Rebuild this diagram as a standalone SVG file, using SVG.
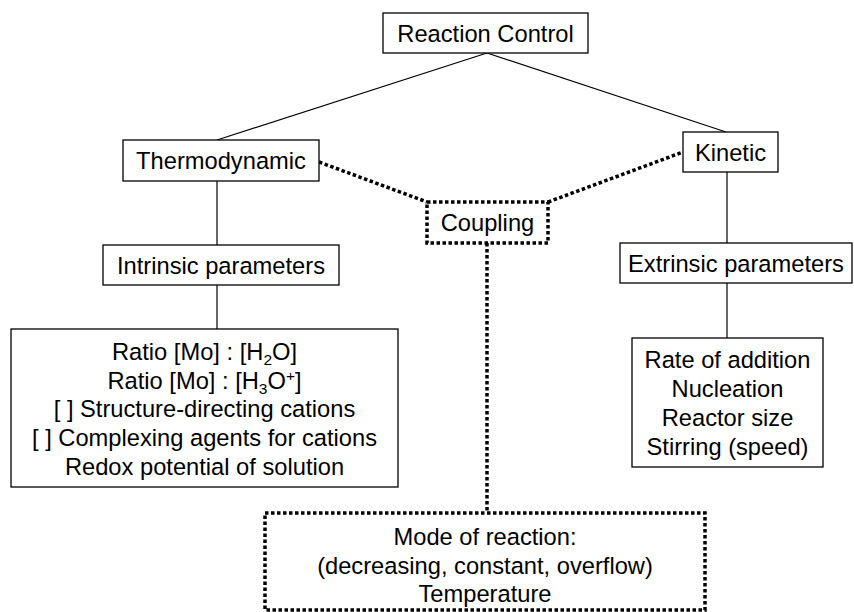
<svg xmlns="http://www.w3.org/2000/svg" width="854" height="612" viewBox="0 0 854 612">
<style>
  .box { fill: #ffffff; stroke: #000000; stroke-width: 1.3; }
  .dbox { fill: #ffffff; stroke: #000000; stroke-width: 3.5; stroke-dasharray: 3.5 2.5; }
  .line { fill: none; stroke: #000000; stroke-width: 1.2; }
  .dline { fill: none; stroke: #000000; stroke-width: 3.5; stroke-dasharray: 3.5 2.5; }
  text { font-family: "Liberation Sans", Arial, sans-serif; font-size: 23.7px; fill: #000000; text-anchor: middle; }
  .sub { font-size: 15.5px; }
</style>
<rect width="854" height="612" fill="#ffffff"/>
<g id="connectors">
  <line class="line" x1="487" y1="53" x2="217" y2="140"/>
  <line class="line" x1="487" y1="53" x2="726" y2="132"/>
  <line class="line" x1="217" y1="181" x2="217" y2="245"/>
  <line class="line" x1="217" y1="285" x2="217" y2="329"/>
  <line class="line" x1="727" y1="172" x2="727" y2="243"/>
  <line class="line" x1="727" y1="283" x2="727" y2="338"/>
  <line class="dline" x1="319" y1="162" x2="427" y2="202"/>
  <line class="dline" x1="548" y1="202" x2="683" y2="152"/>
  <line class="dline" x1="487" y1="243" x2="487" y2="513"/>
</g>
<g id="reaction-control">
  <rect class="box" x="383" y="13" width="205" height="40"/>
  <text x="485.5" y="41.5">Reaction Control</text>
</g>
<g id="thermodynamic">
  <rect class="box" x="123" y="140" width="196" height="41"/>
  <text x="221" y="169">Thermodynamic</text>
</g>
<g id="kinetic">
  <rect class="box" x="683" y="132" width="95" height="40"/>
  <text x="730.5" y="160.5">Kinetic</text>
</g>
<g id="coupling">
  <rect class="dbox" x="427" y="202" width="121" height="41"/>
  <text x="487.5" y="230.5">Coupling</text>
</g>
<g id="intrinsic">
  <rect class="box" x="103" y="245" width="236" height="40"/>
  <text x="221" y="273.5">Intrinsic parameters</text>
</g>
<g id="extrinsic">
  <rect class="box" x="620" y="243" width="232" height="40"/>
  <text x="736" y="271.5">Extrinsic parameters</text>
</g>
<g id="intrinsic-list">
  <rect class="box" x="11" y="329" width="387" height="158"/>
  <text x="204.5" y="360">Ratio [Mo] : [H<tspan class="sub" dy="5">2</tspan><tspan dy="-5">O]</tspan></text>
  <text x="204.5" y="388.5">Ratio [Mo] : [H<tspan class="sub" dy="5">3</tspan><tspan dy="-5">O</tspan><tspan class="sub" dy="-8">+</tspan><tspan dy="8">]</tspan></text>
  <text x="204.5" y="417">[ ] Structure-directing cations</text>
  <text x="204.5" y="445.5">[ ] Complexing agents for cations</text>
  <text x="204.5" y="474.5">Redox potential of solution</text>
</g>
<g id="extrinsic-list">
  <rect class="box" x="632" y="338" width="191" height="129"/>
  <text x="727.5" y="368">Rate of addition</text>
  <text x="727.5" y="397">Nucleation</text>
  <text x="727.5" y="426">Reactor size</text>
  <text x="727.5" y="455">Stirring (speed)</text>
</g>
<g id="mode">
  <rect class="dbox" x="265" y="513" width="440" height="97"/>
  <text x="485" y="545">Mode of reaction:</text>
  <text x="485" y="574">(decreasing, constant, overflow)</text>
  <text x="485" y="602">Temperature</text>
</g>
</svg>
